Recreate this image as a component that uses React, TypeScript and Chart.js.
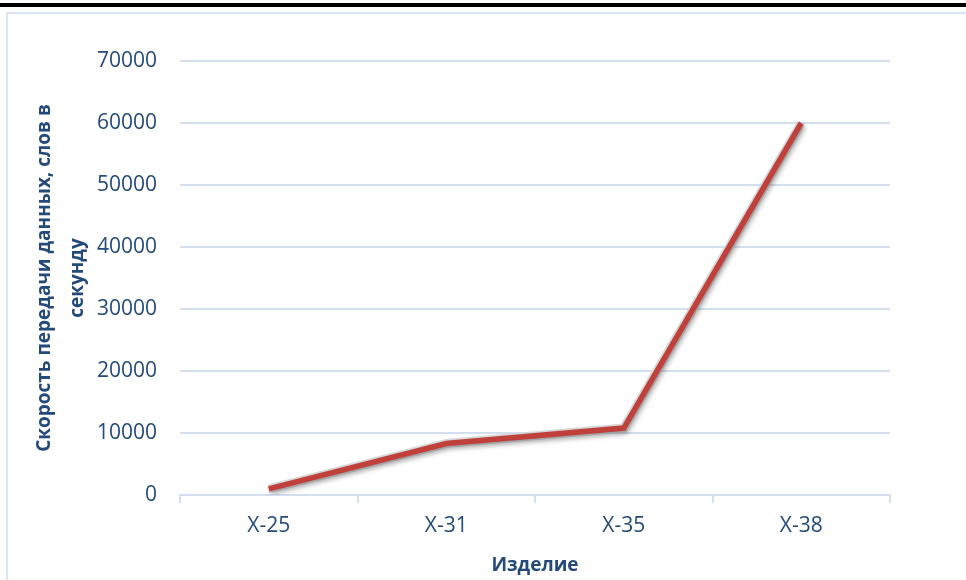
import React, { useEffect, useRef } from "react";
import { Chart, registerables } from "chart.js";

Chart.register(...registerables);

const categories = ["X-25", "X-31", "X-35", "X-38"];
const speedValues = [1000, 8300, 10800, 60000];
const yTitleLines = ["Скорость передачи данных, слов в", "секунду"];
const xTitle = "Изделие";

const TEXT = "#244A7C";
const GRID = "#D3DFF0";

const shadowPlugin = {
  id: "lineShadow",
  beforeDatasetDraw(chart: any, args: any) {
    const ctx = chart.ctx;
    ctx.save();
    if (args.index === 0) {
      ctx.shadowColor = "rgba(0,0,0,0.35)";
      ctx.shadowBlur = 5;
      ctx.shadowOffsetX = 2;
      ctx.shadowOffsetY = 3;
    }
  },
  afterDatasetDraw(chart: any) {
    chart.ctx.restore();
  },
};

export default function App() {
  const ref = useRef<HTMLCanvasElement | null>(null);
  useEffect(() => {
    if (!ref.current) return;
    const chart = new Chart(ref.current, {
      type: "line",
      data: {
        labels: categories,
        datasets: [
          {
            data: speedValues,
            borderColor: "#C0403C",
            borderWidth: 5.5,
            borderJoinStyle: "miter",
            borderCapStyle: "butt",
            pointRadius: 0,
            tension: 0,
            fill: false,
            order: 1,
          },
          {
            data: speedValues,
            borderColor: "rgba(215,215,215,0.9)",
            borderWidth: 9,
            borderJoinStyle: "miter",
            pointRadius: 0,
            tension: 0,
            fill: false,
            order: 2,
          },
        ],
      },
      options: {
        animation: false,
        responsive: false,
        maintainAspectRatio: false,
        layout: { padding: { top: 61, right: 76, bottom: 0, left: 0 } },
        plugins: { legend: { display: false }, tooltip: { enabled: false } },
        scales: {
          x: {
            offset: true,
            grid: {
              offset: true,
              drawOnChartArea: false,
              drawTicks: true,
              tickLength: 8,
              color: GRID,
              lineWidth: 2,
            },
            border: { display: true, color: GRID, width: 2 },
            ticks: {
              color: TEXT,
              padding: 10,
              font: { family: "'Open Sans'", size: 21 },
            },
            title: {
              display: true,
              text: xTitle,
              color: TEXT,
              padding: { top: 0, bottom: 3 },
              font: { family: "'Open Sans'", size: 19, weight: "bold" },
            },
            afterFit: (s: any) => {
              s.height = 85;
            },
          },
          y: {
            min: 0,
            max: 70000,
            ticks: {
              stepSize: 10000,
              color: TEXT,
              padding: 23,
              font: { family: "'Open Sans'", size: 21 },
              callback: (v: any) => String(v),
            },
            grid: { color: GRID, lineWidth: 2, drawTicks: false, tickLength: 0 },
            border: { display: false },
            title: {
              display: true,
              text: yTitleLines,
              color: TEXT,
              padding: { top: 28, bottom: 0 },
              font: { family: "'Open Sans'", size: 19, weight: "bold", lineHeight: 1.74 },
            },
            afterFit: (s: any) => {
              s.width = 180;
            },
          },
        },
      },
      plugins: [shadowPlugin],
    });
    return () => chart.destroy();
  }, []);

  return (
    <div
      style={{
        position: "fixed",
        left: 0,
        top: 0,
        width: 966,
        height: 580,
        background: "#ffffff",
        overflow: "hidden",
      }}
    >
      <div
        style={{
          position: "absolute",
          left: 0,
          top: 3,
          width: 966,
          height: 4,
          background: "#000000",
        }}
      />
      <div
        style={{
          position: "absolute",
          left: 6,
          top: 12,
          width: 1000,
          height: 600,
          border: "2px solid #DAE5F3",
        }}
      />
      <canvas
        ref={ref}
        width={966}
        height={580}
        style={{ position: "absolute", left: 0, top: 0, width: 966, height: 580 }}
      />
    </div>
  );
}
